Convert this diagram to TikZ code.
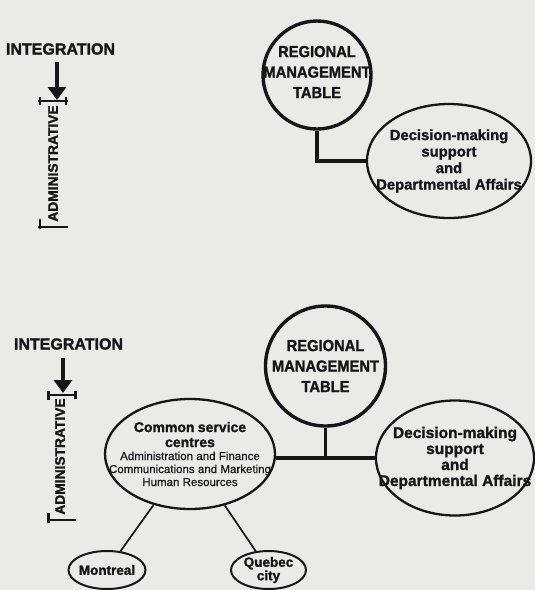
\documentclass[tikz,border=0pt]{standalone}
\usepackage{fontspec}
\setmainfont{Liberation Sans}[
  UprightFeatures={FakeBold=0.6},
  BoldFeatures={FakeBold=1.4}]
\newfontfamily\narrowsans{Liberation Sans}[
  FakeStretch=0.92,
  BoldFeatures={FakeBold=1.4}]
\usetikzlibrary{shapes.geometric,arrows.meta}
\definecolor{paper}{RGB}{234,234,231}
\definecolor{ink}{RGB}{22,22,22}

\begin{document}
\begin{tikzpicture}[x=1pt,y=-1pt,
  every node/.style={text=ink, inner sep=0pt},
  level/.style={font=\fontsize{16}{16}\selectfont\bfseries},
  axislabel/.style={rotate=90, font=\fontsize{13.8}{14}\selectfont\bfseries},
  tablecircle/.style={circle, draw=ink, line width=3.4pt, inner sep=-20pt,
    align=center, font=\narrowsans\fontsize{16}{20.5}\selectfont\bfseries},
  unit/.style={ellipse, draw=ink, line width=2.3pt, inner xsep=-40pt,
    inner ysep=0pt, align=center},
  site/.style={ellipse, draw=ink, line width=2pt, inner xsep=-20pt,
    inner ysep=0pt, align=center, font=\fontsize{13.5}{12}\selectfont\bfseries},
  link/.style={draw=ink, line width=3.2pt},
  thinlink/.style={draw=ink, line width=1.7pt},
  rise/.style={draw=ink, line width=3.5pt, -{Triangle[width=18pt,length=13pt]}},
  bracket/.style={draw=ink, line width=2.4pt}
]
\fill[paper] (0,0) rectangle (535,590);
\useasboundingbox (0,0) rectangle (535,590);

% ---------- upper chart ----------
\node[level] (int1) at (60.5,49) {INTEGRATION};
\coordinate (i1foot) at (57,62);
\coordinate (i1head) at (57,100);
\draw[rise] (i1foot) -- (i1head);
\draw[bracket] (38,101) -- (68,101);
\draw[bracket] (40,97) -- (40,105);
\draw[bracket] (66,97) -- (66,105);
\node[axislabel] (adm1) at (53,163.5) {ADMINISTRATIVE};
\draw[bracket] (38,227) -- (68,227);
\draw[bracket] (40,219) -- (40,229);

\node[tablecircle, minimum size=108pt, text depth=6pt] (c1) at (317,75)
  {REGIONAL\\MANAGEMENT\\TABLE};
\node[unit, minimum width=164pt, minimum height=114pt,
  font=\fontsize{14.8}{16.5}\selectfont\bfseries] (d1) at (449,161)
  {Decision-making\\support\\and\\Departmental Affairs};
\draw[link] (c1.south) |- (d1.west);

% ---------- lower chart ----------
\node[level] (int2) at (68.5,344) {INTEGRATION};
\coordinate (i2foot) at (63,358);
\coordinate (i2head) at (63,393);
\draw[rise] (i2foot) -- (i2head);
\draw[bracket] (47,395) -- (77,395);
\draw[bracket] (48.5,391) -- (48.5,400);
\draw[bracket] (75.5,391) -- (75.5,399);
\node[axislabel] (adm2) at (60,456.5) {ADMINISTRATIVE};
\draw[bracket] (47,520) -- (76,520);
\draw[bracket] (48.5,513) -- (48.5,523);

\node[tablecircle, minimum size=120pt] (c2) at (325.5,366)
  {REGIONAL\\MANAGEMENT\\TABLE};
\node[unit, minimum width=170pt, minimum height=110pt, text width=172pt]
  (cs) at (190,454)
  {{\fontsize{14}{15}\selectfont\bfseries Common service\\ centres\par}
   {\fontsize{11.5}{13}\selectfont Administration and Finance\\
    Communications and Marketing\\ Human Resources\par}};
\node[unit, minimum width=158pt, minimum height=115pt,
  font=\fontsize{15.5}{16}\selectfont\bfseries] (r2) at (455,458)
  {Decision-making\\support\\and\\Departmental Affairs};
\coordinate (hub) at (c2.south |- r2.west);
\draw[link] (c2.south) -- (hub);
\draw[link] (r2.west) -- (r2.west -| cs.east);

\node[site, minimum width=77pt, minimum height=38pt] (mtl) at (107,570) {Montreal};
\node[site, minimum width=75pt, minimum height=38pt] (qc) at (268.5,570) {Quebec\\city};
\draw[thinlink] (cs) -- (mtl);
\draw[thinlink] (cs) -- (qc);
\end{tikzpicture}
\end{document}
